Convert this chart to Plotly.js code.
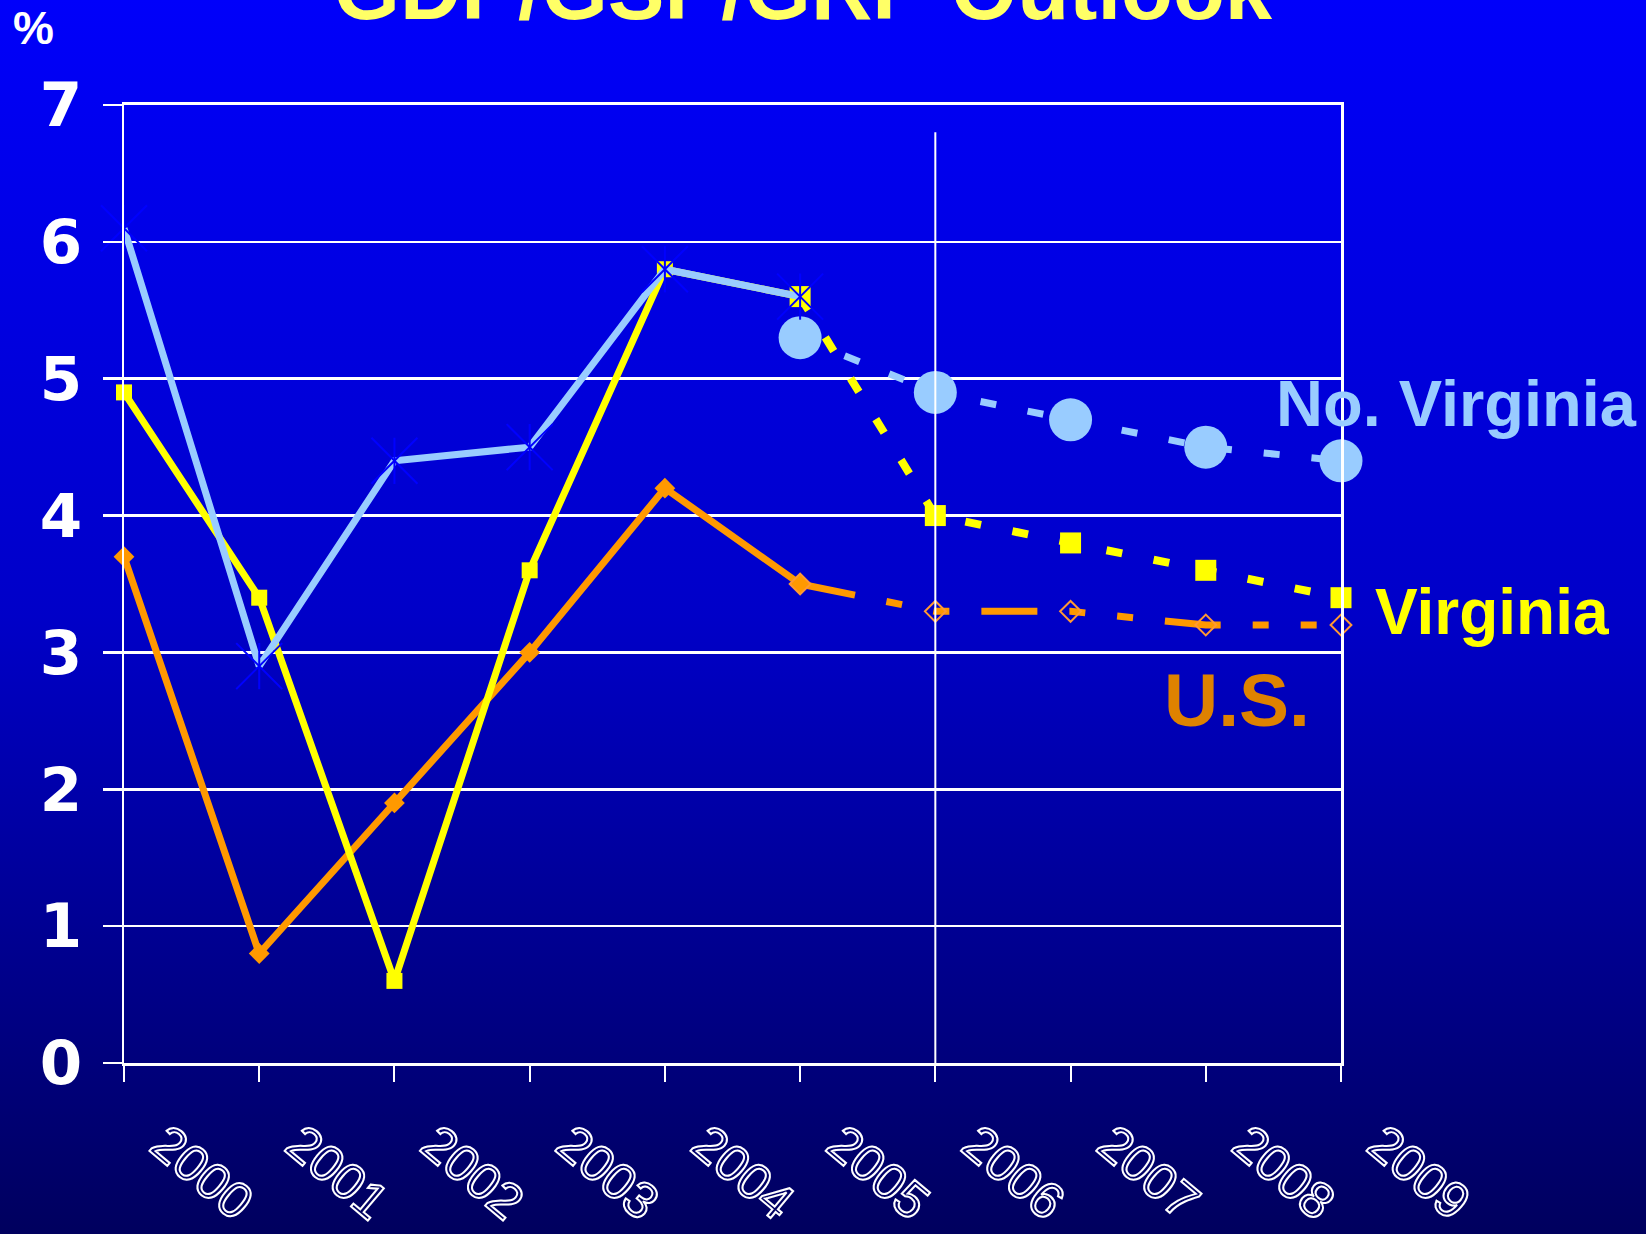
<!DOCTYPE html>
<html>
<head>
<meta charset="utf-8">
<script src="https://cdn.plot.ly/plotly-3.0.1.min.js"></script>
<style>
html,body{margin:0;padding:0;}
body{width:1646px;height:1234px;overflow:hidden;background:linear-gradient(to bottom,#0000FA 0%,#0000C8 50%,#00005E 100%);}
#chart{width:1646px;height:1234px;}
.xtick text{fill:none !important;stroke:#FFFFFF;stroke-width:2px;}
</style>
</head>
<body>
<div id="chart"></div>
<script>
// ---- data ----
const years = ['2000','2001','2002','2003','2004','2005','2006','2007','2008','2009'];
const actualYears = ['2000','2001','2002','2003','2004','2005'];
const forecastYears = ['2005','2006','2007','2008','2009'];

const novaActual = [6.1, 2.9, 4.4, 4.5, 5.8, 5.6];
const vaActual   = [4.9, 3.4, 0.6, 3.6, 5.8, 5.6];
const usActual   = [3.7, 0.8, 1.9, 3.0, 4.2, 3.5];

const novaForecast = [5.3, 4.9, 4.7, 4.5, 4.4];
const vaForecast   = [5.6, 4.0, 3.8, 3.6, 3.4];
const usForecast   = [3.5, 3.3, 3.3, 3.2, 3.2];

const yTicks = [0, 1, 2, 3, 4, 5, 6, 7];
const titleText = 'GDP/GSP/GRP Outlook';
const unitLabel = '%';
const seriesLabels = ['No. Virginia', 'Virginia', 'U.S.'];

// ---- layout helpers ----
const W = 1646, H = 1234;
const M = {l:124, r:305, t:105, b:171};
const PW = W - M.l - M.r, PH = H - M.t - M.b;
const px2x = px => (px - M.l) / PW;
const px2y = py => (H - M.b - py) / PH;

const BLUE = '#99CCFF', YEL = '#FFFF00', ORG = '#FF9900';
const FDASH = '16px,32px';
const UDASH = '56px,32px,16px,32px,16px,32px';

const traces = [
  {x: actualYears, y: usActual, mode: 'lines+markers', cliponaxis: false,
   line: {color: ORG, width: 7}, marker: {symbol: 'diamond', size: 16, color: ORG}},
  {x: forecastYears, y: usForecast, mode: 'lines+markers', cliponaxis: false,
   line: {color: ORG, width: 7, dash: UDASH},
   marker: {symbol: 'diamond-open', size: 16, color: '#FF9933', line: {color: '#FF9933', width: 2}}},
  {x: actualYears, y: vaActual, mode: 'lines+markers', cliponaxis: false,
   line: {color: YEL, width: 7}, marker: {symbol: 'square', size: 16, color: YEL}},
  {x: forecastYears, y: vaForecast, mode: 'lines+markers', cliponaxis: false,
   line: {color: YEL, width: 8, dash: FDASH}, marker: {symbol: 'square', size: 21, color: YEL}},
  {x: actualYears, y: novaActual, mode: 'lines', cliponaxis: false,
   line: {color: BLUE, width: 7}},
  {x: forecastYears, y: novaForecast, mode: 'lines+markers', cliponaxis: false,
   line: {color: BLUE, width: 7, dash: FDASH}, marker: {symbol: 'circle', size: 43, color: BLUE}},
  {x: actualYears, y: novaActual, mode: 'markers', cliponaxis: false,
   marker: {symbol: 'x-thin-open', size: 46, color: '#0000FF', line: {color: '#0000FF', width: 2}}},
  {x: actualYears, y: novaActual, mode: 'markers', cliponaxis: false,
   marker: {symbol: 'line-ns-open', size: 33, color: '#0000FF', line: {color: '#0000FF', width: 2}}}
];

const layout = {
  width: W, height: H,
  margin: M,
  paper_bgcolor: 'rgba(0,0,0,0)',
  plot_bgcolor: 'rgba(0,0,0,0)',
  showlegend: false,
  hovermode: false,
  title: {
    text: titleText,
    font: {family: 'Liberation Sans', size: 85, color: '#FFFF66', weight: 'bold'},
    xref: 'container', x: 803 / W, xanchor: 'center',
    yref: 'container', y: 1 - 19 / H, yanchor: 'bottom'
  },
  xaxis: {
    type: 'category', categoryorder: 'array', categoryarray: years,
    range: [0, 9], showgrid: false, zeroline: false,
    showline: true, linecolor: '#FFFFFF', linewidth: 3, mirror: true,
    ticks: 'outside', ticklen: 16, tickwidth: 2, tickcolor: '#FFFFFF',
    tickangle: 40, ticklabelshift: 40, ticklabelstandoff: 12,
    tickfont: {family: 'Liberation Sans', size: 51, color: '#FFFFFF'},
    fixedrange: true
  },
  yaxis: {
    range: [0, 7], tickvals: yTicks, ticktext: yTicks.map(String),
    showgrid: true, gridcolor: '#FFFFFF', gridwidth: 2.5, zeroline: false,
    showline: true, linecolor: '#FFFFFF', linewidth: 2.5, mirror: true,
    ticks: 'outside', ticklen: 19, tickwidth: 2.5, tickcolor: '#FFFFFF',
    ticklabelstandoff: 8,
    tickfont: {family: 'DejaVu Sans', size: 61, color: '#FFFFFF', weight: 'bold'},
    fixedrange: true
  },
  shapes: [
    {type: 'line', xref: 'x', yref: 'y', x0: 6, x1: 6, y0: 0, y1: 6.8, layer: 'above',
     line: {color: '#FFFFFF', width: 2}}
  ],
  annotations: [
    {text: unitLabel, xref: 'paper', yref: 'paper', x: px2x(33), y: px2y(28),
     xanchor: 'center', yanchor: 'middle', showarrow: false,
     font: {family: 'Liberation Sans', size: 46, color: '#FFFFFF', weight: 'bold'}},
    {text: seriesLabels[0], xref: 'paper', yref: 'paper', x: px2x(1274), y: px2y(404),
     xanchor: 'left', yanchor: 'middle', showarrow: false,
     font: {family: 'Liberation Sans', size: 65, color: BLUE, weight: 'bold'}},
    {text: seriesLabels[1], xref: 'paper', yref: 'paper', x: px2x(1373), y: px2y(612),
     xanchor: 'left', yanchor: 'middle', showarrow: false,
     font: {family: 'Liberation Sans', size: 64, color: YEL, weight: 'bold'}},
    {text: seriesLabels[2], xref: 'paper', yref: 'paper', x: px2x(1162), y: px2y(700),
     xanchor: 'left', yanchor: 'middle', showarrow: false,
     font: {family: 'Liberation Sans', size: 75, color: '#DE8200', weight: 'bold'}}
  ]
};

Plotly.newPlot('chart', traces, layout, {staticPlot: true, displayModeBar: false});
</script>
</body>
</html>
